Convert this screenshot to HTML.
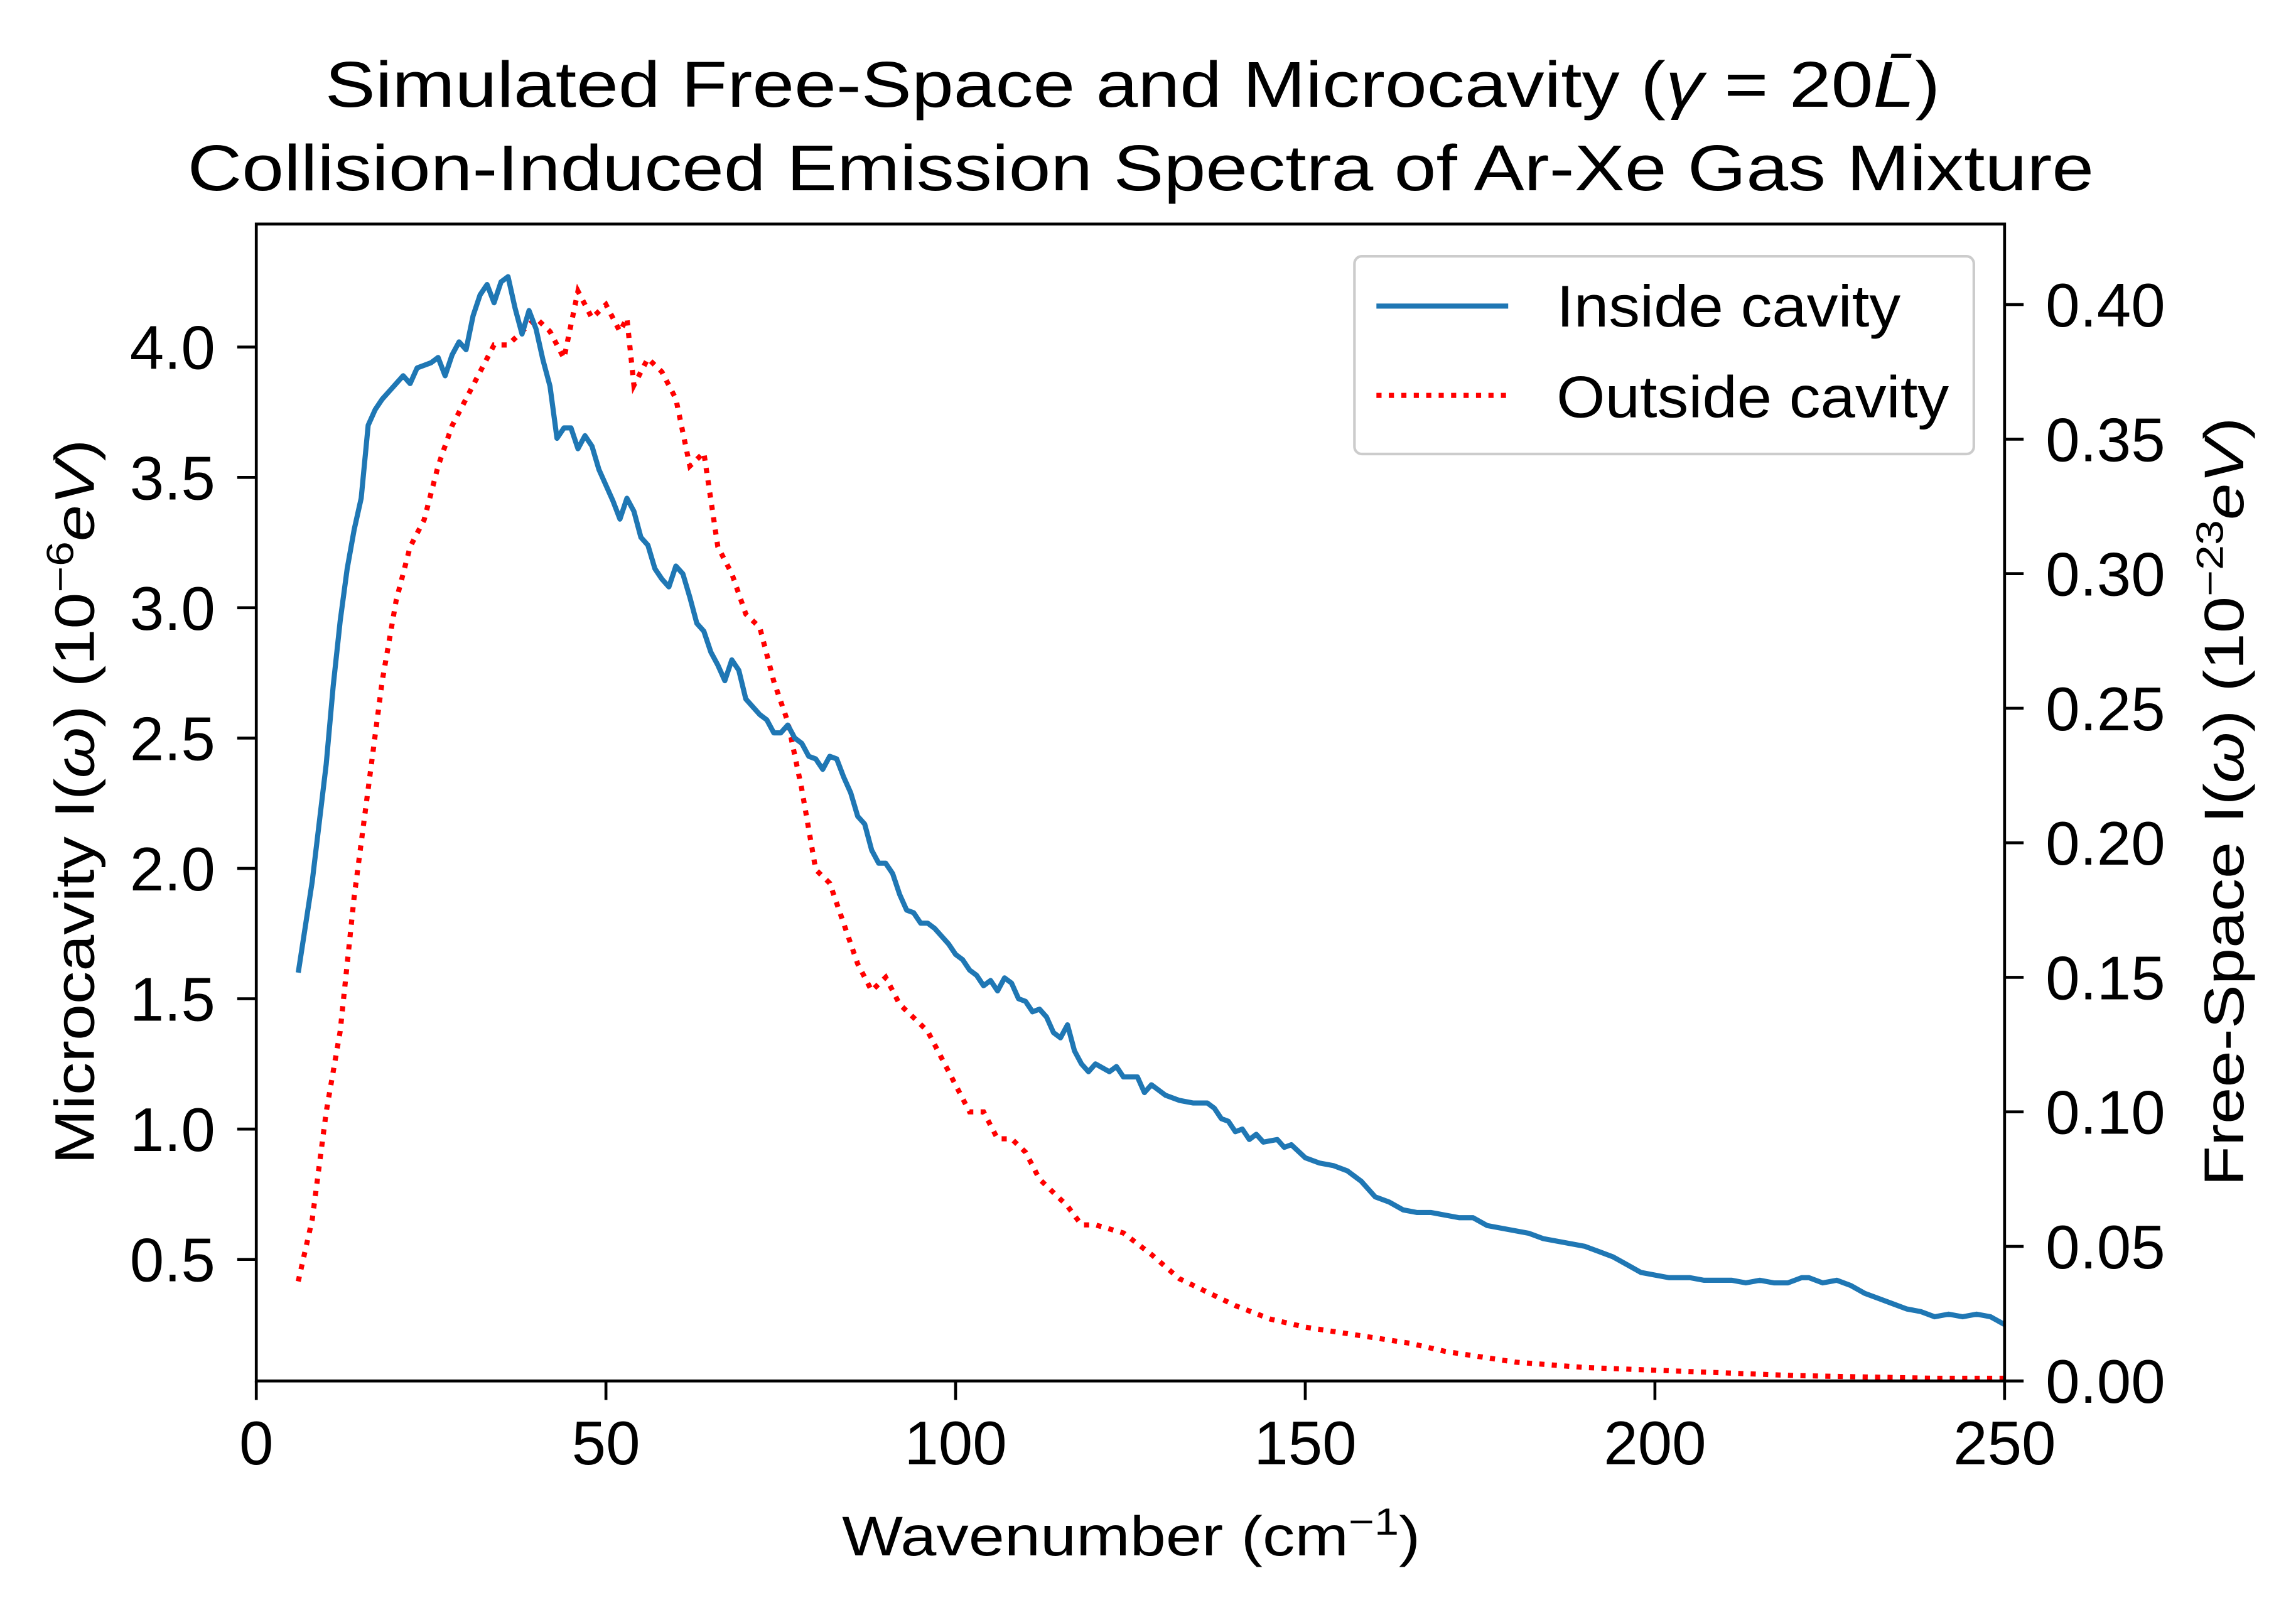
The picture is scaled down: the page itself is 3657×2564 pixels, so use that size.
<!DOCTYPE html>
<html><head><meta charset="utf-8"><style>
html,body{margin:0;padding:0;background:#fff}
svg{display:block}
text{font-family:"Liberation Sans",sans-serif;fill:#000}
</style></head><body>
<svg id="chart" width="3657" height="2564" viewBox="0 0 1568 1099.4" xmlns="http://www.w3.org/2000/svg">
<rect width="1568" height="1100" fill="#fff"/>
<text x="222" y="73" font-size="44" textLength="1103" lengthAdjust="spacingAndGlyphs">Simulated Free-Space and Microcavity (<tspan font-style="italic">γ</tspan> = 20<tspan font-style="italic">L̄</tspan>)</text>
<text x="128" y="130" font-size="44" textLength="1302" lengthAdjust="spacingAndGlyphs">Collision-Induced Emission Spectra of Ar-Xe Gas Mixture</text>
<g id="plot"></g>
<rect x="175" y="153" width="1194" height="790" fill="none" stroke="#000" stroke-width="2"/>
<g>
<rect x="925" y="175" width="423" height="135" rx="5" fill="#fff" fill-opacity="0.85" stroke="#ccc" stroke-width="1.8"/>
<line x1="940" y1="209" x2="1030" y2="209" stroke="#1f77b4" stroke-width="3.5"/>
<text x="1063" y="223" font-size="40" textLength="235" lengthAdjust="spacingAndGlyphs">Inside cavity</text>
<line x1="940" y1="270" x2="1030" y2="270" stroke="#ff0000" stroke-width="3.5" stroke-dasharray="3.5,5"/>
<text x="1063" y="285" font-size="40" textLength="268" lengthAdjust="spacingAndGlyphs">Outside cavity</text>
</g>
<text x="575" y="1062" font-size="38" textLength="395" lengthAdjust="spacingAndGlyphs">Wavenumber (cm<tspan dy="-14" font-size="26">−1</tspan><tspan dy="14">)</tspan></text>
<text transform="translate(64,795) rotate(-90)" font-size="38" textLength="495" lengthAdjust="spacingAndGlyphs">Microcavity I(<tspan font-style="italic">ω</tspan>) (10<tspan dy="-14" font-size="26">−6</tspan><tspan dy="14" font-style="italic">eV</tspan>)</text>
<text transform="translate(1532,810) rotate(-90)" font-size="38" textLength="525" lengthAdjust="spacingAndGlyphs">Free-Space I(<tspan font-style="italic">ω</tspan>) (10<tspan dy="-14" font-size="26">−23</tspan><tspan dy="14" font-style="italic">eV</tspan>)</text>
</svg>
<script>
const insideX=[6,8,10,11,12,13,14,15,16,17,18,19,20,21,22,23,24,25,26,27,28,29,30,31,32,33,34,35,36,37,38,39,40,41,42,43,44,45,46,47,48,49,50,51,52,53,54,55,56,57,58,59,60,61,62,63,64,65,66,67,68,69,70,71,72,73,74,75,76,77,78,79,80,81,82,83,84,85,86,87,88,89,90,91,92,93,94,95,96,97,98,99,100,101,102,103,104,105,106,107,108,109,110,111,112,113,114,115,116,117,118,119,120,122,123,124,126,127,128,130,132,134,136,137,138,139,140,141,142,143,144,146,147,148,150,152,154,156,158,160,162,164,166,168,170,172,174,176,178,180,182,184,186,188,190,192,194,196,198,200,202,205,207,209,211,213,215,217,219,221,222,224,226,228,230,232,234,236,238,240,242,244,246,248,250];
const insideY=[1.6,1.95,2.4,2.7,2.95,3.15,3.3,3.42,3.7,3.76,3.8,3.83,3.86,3.89,3.86,3.92,3.93,3.94,3.96,3.89,3.97,4.02,3.99,4.12,4.2,4.24,4.17,4.25,4.27,4.15,4.05,4.14,4.07,3.95,3.85,3.65,3.69,3.69,3.61,3.66,3.62,3.53,3.47,3.41,3.34,3.42,3.37,3.27,3.24,3.15,3.11,3.08,3.16,3.13,3.04,2.94,2.91,2.83,2.78,2.72,2.8,2.76,2.65,2.62,2.59,2.57,2.52,2.52,2.55,2.5,2.48,2.43,2.42,2.38,2.43,2.42,2.35,2.29,2.2,2.17,2.07,2.02,2.02,1.98,1.9,1.84,1.83,1.79,1.79,1.77,1.74,1.71,1.67,1.65,1.61,1.59,1.55,1.57,1.53,1.58,1.56,1.5,1.49,1.45,1.46,1.43,1.37,1.35,1.4,1.3,1.25,1.22,1.25,1.22,1.24,1.2,1.2,1.14,1.17,1.13,1.11,1.1,1.1,1.08,1.04,1.03,0.99,1.0,0.96,0.98,0.95,0.96,0.93,0.94,0.89,0.87,0.86,0.84,0.8,0.74,0.72,0.69,0.68,0.68,0.67,0.66,0.66,0.63,0.62,0.61,0.6,0.58,0.57,0.56,0.55,0.53,0.51,0.48,0.45,0.44,0.43,0.43,0.42,0.42,0.42,0.41,0.42,0.41,0.41,0.43,0.43,0.41,0.42,0.4,0.37,0.35,0.33,0.31,0.3,0.28,0.29,0.28,0.29,0.28,0.25];
const outsideX=[6,8,10,12,14,16,18,20,22,24,26,28,30,32,34,36,38,40,42,44,46,48,50,52,53,54,56,58,60,62,64,66,68,70,72,74,76,78,80,82,84,86,88,90,92,94,96,98,100,102,104,106,108,110,112,114,116,118,120,124,128,132,136,140,145,150,155,160,165,170,175,180,190,200,210,220,230,240,250];
const outsideY=[0.037,0.06,0.1,0.13,0.18,0.22,0.26,0.29,0.31,0.32,0.34,0.355,0.365,0.375,0.385,0.385,0.39,0.395,0.39,0.38,0.405,0.395,0.4,0.39,0.395,0.37,0.38,0.375,0.365,0.34,0.345,0.31,0.3,0.285,0.28,0.26,0.245,0.22,0.19,0.185,0.17,0.155,0.145,0.15,0.14,0.135,0.13,0.12,0.11,0.1,0.1,0.09,0.09,0.085,0.075,0.07,0.065,0.058,0.058,0.055,0.047,0.038,0.033,0.028,0.023,0.02,0.018,0.016,0.014,0.011,0.009,0.007,0.005,0.004,0.003,0.002,0.0015,0.001,0.001];
const xTicks=[0,50,100,150,200,250];
const leftTicks=[0.5,1.0,1.5,2.0,2.5,3.0,3.5,4.0];
const rightTicks=[0,0.05,0.10,0.15,0.20,0.25,0.30,0.35,0.40];

const NS="http://www.w3.org/2000/svg";
const X0=175,X1=1369,YT=153,YB=943,TL=13,FS=42;
const sx=v=>X0+(v-0)/(250-0)*(X1-X0);
const syL=v=>949-v*178;
const syR=v=>YB-v*1837.5;
const g=document.getElementById('plot');
function mk(t,a){const e=document.createElementNS(NS,t);for(const k in a)e.setAttribute(k,a[k]);g.appendChild(e);return e;}

const cp=document.createElementNS(NS,'clipPath');cp.setAttribute('id','clip');
const cr=document.createElementNS(NS,'rect');cr.setAttribute('x',X0);cr.setAttribute('y',YT);cr.setAttribute('width',X1-X0);cr.setAttribute('height',YB-YT);
cp.appendChild(cr);g.appendChild(cp);

xTicks.forEach(v=>{
  const l=mk('line',{x1:sx(v),x2:sx(v),y1:YB,y2:YB+TL,stroke:'#000','stroke-width':2});
  
  
  const t=mk('text',{x:sx(v),y:YB+57,'font-size':FS,'text-anchor':'middle'});t.textContent=v;
  
  
});
leftTicks.forEach(v=>{
  const l=mk('line',{x1:X0-TL,x2:X0,y1:syL(v),y2:syL(v),stroke:'#000','stroke-width':2});
  
  
  const t=mk('text',{x:X0-TL-15,y:syL(v)+15,'font-size':FS,'text-anchor':'end'});t.textContent=v.toFixed(1);
  
  
});
rightTicks.forEach(v=>{
  const l=mk('line',{x1:X1,x2:X1+TL,y1:syR(v),y2:syR(v),stroke:'#000','stroke-width':2});
  
  
  const t=mk('text',{x:X1+TL+15,y:syR(v)+15,'font-size':FS,'text-anchor':'start'});t.textContent=v.toFixed(2);
  
  
});
const pr=mk('polyline',{points:outsideX.map((x,i)=>sx(x)+','+syR(outsideY[i])).join(' '),fill:'none',stroke:'#ff0000','stroke-width':3.5,'stroke-dasharray':'3.5,5','clip-path':'url(#clip)'});


const pb=mk('polyline',{points:insideX.map((x,i)=>sx(x)+','+syL(insideY[i])).join(' '),fill:'none',stroke:'#1f77b4','stroke-width':3.5,'stroke-linejoin':'round','clip-path':'url(#clip)'});


</script>
</body></html>
